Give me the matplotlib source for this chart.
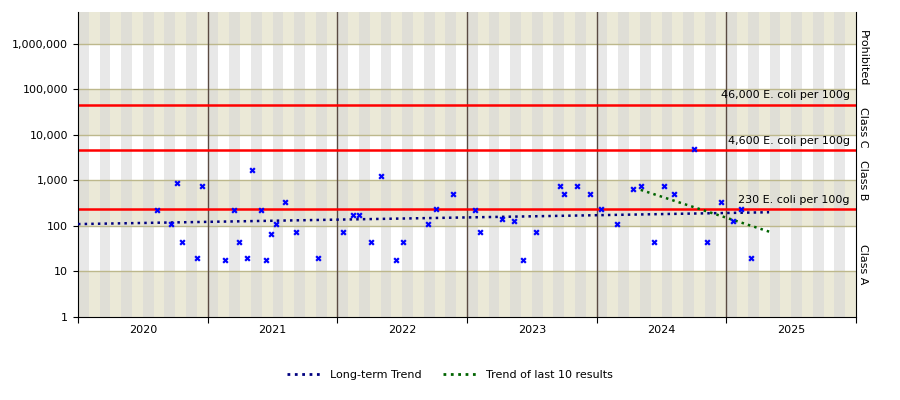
import numpy as np
import matplotlib.pyplot as plt
from matplotlib.lines import Line2D

# sample dates (decimal years) and E. coli results per 100g
dates = [2020.61, 2020.72, 2020.76, 2020.80, 2020.92, 2020.96, 2021.13, 2021.20, 2021.24, 2021.30,
         2021.34, 2021.41, 2021.45, 2021.49, 2021.53, 2021.60, 2021.68, 2021.85, 2022.04, 2022.12,
         2022.17, 2022.26, 2022.34, 2022.45, 2022.51, 2022.70, 2022.76, 2022.89, 2023.06, 2023.10,
         2023.27, 2023.36, 2023.43, 2023.53, 2023.72, 2023.75, 2023.85, 2023.95, 2024.03, 2024.16,
         2024.28, 2024.34, 2024.44, 2024.52, 2024.60, 2024.75, 2024.85, 2024.96, 2025.05, 2025.11,
         2025.19]
results = [220, 110, 900, 45, 20, 750, 18, 220, 45, 20,
           1700, 220, 18, 68, 110, 330, 75, 20, 75, 170,
           170, 45, 1250, 18, 45, 110, 230, 500, 220, 75,
           140, 130, 18, 75, 750, 500, 750, 500, 230, 110,
           650, 750, 45, 750, 500, 4800, 45, 330, 130, 230,
           20]

long_trend_x = [2020.0, 2025.33]
long_trend_y = [110, 200]
recent_trend_x = [2024.34, 2025.33]
recent_trend_y = [620, 75]

thresholds = [230, 4600, 46000]
threshold_labels = ["230 E. coli per 100g", "4,600 E. coli per 100g", "46,000 E. coli per 100g"]
years = [2020, 2021, 2022, 2023, 2024, 2025]
class_names = ["Class A", "Class B", "Class C", "Prohibited"]

x0, x1 = 2020.0, 2026.0
ymin, ymax = 1, 10 ** 6.7

fig = plt.figure(figsize=(9, 4), dpi=100)
ax = fig.add_axes([78 / 900, 1 - 317 / 400, (856 - 78) / 900, (317 - 12) / 400])
ax.set_yscale("log")
ax.set_xlim(x0, x1)
ax.set_ylim(ymin, ymax)

# background: decade bands, monthly stripes
for d in range(7):
    lo, hi = 10 ** d, min(10 ** (d + 1), ymax)
    beige = d % 2 == 0
    for m in range(72):
        xa = x0 + m / 12
        if beige:
            c = "#dfded6" if m % 2 == 0 else "#ebe9d7"
        else:
            c = "#e8e8e8" if m % 2 == 0 else "#ffffff"
        ax.fill_between([xa, xa + 1 / 12], lo, hi, color=c, lw=0, zorder=0)
for d in range(1, 7):
    ax.axhline(10 ** d, color="#bdb88c", lw=1, zorder=1)
for y in years[1:]:
    ax.axvline(y, color="#5a4a42", lw=1, zorder=1)

for t, lab in zip(thresholds, threshold_labels):
    ax.axhline(t, color="red", lw=1.8, zorder=2)
    ax.text(2025.95, t * 1.25, lab, ha="right", va="bottom", fontsize=8, zorder=5)

ax.plot(long_trend_x, long_trend_y, ls=":", color="#000080", lw=1.8, zorder=3)
ax.plot(recent_trend_x, recent_trend_y, ls=":", color="#006400", lw=1.8, zorder=3)
ax.scatter(dates, results, marker="X", s=20, color="#0000ff", lw=0, zorder=4)

ax.set_yticks([10 ** d for d in range(7)])
ax.set_yticklabels([f"{10 ** d:,}" for d in range(7)], fontsize=8)
ax.yaxis.set_minor_locator(plt.NullLocator())
ax.set_xticks(years + [2026])
ax.set_xticklabels([])
ax.set_xticks([y + 0.5 for y in years], minor=True)
ax.set_xticklabels([str(y) for y in years], minor=True, fontsize=8)
ax.tick_params(axis="x", which="minor", length=0, pad=6)
ax.tick_params(axis="x", which="major", length=4)
ax.spines["top"].set_visible(False)

# class labels on right
bounds = [ymin, 230, 4600, 46000, ymax]
for i, name in enumerate(class_names):
    yc = np.sqrt(bounds[i] * bounds[i + 1])
    if name == "Class A":
        yc = 10 ** 1.15
    ax.text(1.003, yc, name, transform=ax.get_yaxis_transform(), rotation=-90,
            ha="left", va="center", fontsize=8)

handles = [Line2D([], [], ls=":", color="#000080", lw=2),
           Line2D([], [], ls=":", color="#006400", lw=2)]
fig.legend(handles, ["Long-term Trend", "Trend of last 10 results"], loc="center",
           bbox_to_anchor=(0.5, 1 - 375 / 400), ncol=2, frameon=False, fontsize=8,
           handlelength=3)

fig.savefig("out.png", dpi=100)
